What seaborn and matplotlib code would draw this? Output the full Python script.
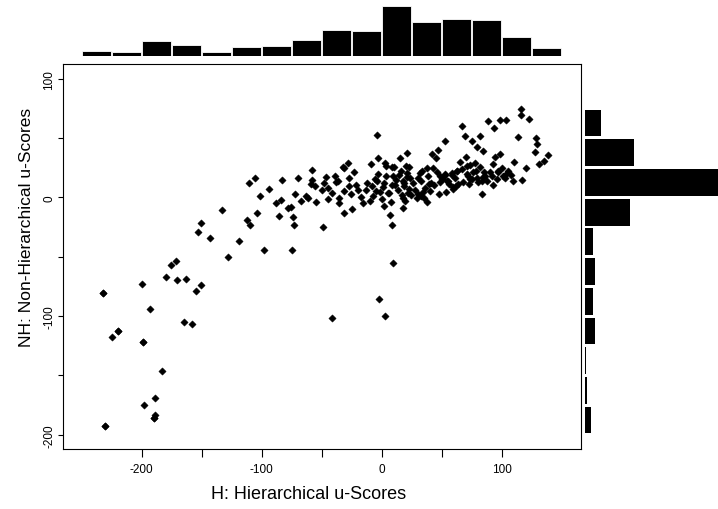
import matplotlib
matplotlib.use("Agg")
import matplotlib.pyplot as plt
import numpy as np
import pandas as pd
import seaborn as sns

# H (hierarchical) and NH (non-hierarchical) u-scores
h_scores = [
    -232, -230.6, -224.5, -219.7, -199.7, -198.6, -197.8, -193, -188.6, -188.9,
    -189.7, -182.8, -179.7, -175.8, -171.7, -170.8, -163, -165, -157.8, -155,
    -150.8, -152.8, -150.8, -142.8, -132.8, -127.8, -118.9, -110.8, -105.8, -112.2,
    -110, -101.4, -104.2, -97.8, -93.9, -87.8, -84.2, -85.3, -77.8, -75.8,
    -74.2, -73, -75, -83, -71.9, -70, -66.9, -63.3, -61.4, -58,
    -58, -59.2, -55.3, -55, -49.2, -49.5, -46.1, -45, -45, -41.1,
    -41.1, -37.8, -36.1, -35.8, -35.3, -32.5, -31.4, -28.3, -31.4, -31.1,
    -27.5, -25.5, -24.4, -23.3, -21.7, -17.2, -15.3, -13.1, -10, -9.2,
    -7.8, -7, -5.8, -4.2, -3.6, -2.8, -4.7, -2.2, 2.8, -1.4,
    0.3, 1.4, 1.9, 2.8, 3.9, 6.9, 8.9, 9.7, 6.4, 7.8,
    8.3, 9.7, 10.6, 11.1, 14.7, 15.6, 16.7, 17.5, 18, 18.9,
    20, 20.8, 20.8, 21.4, 22.5, 23.1, 19.4, 17.5, 24.2, 29.2,
    30.6, 31.9, 32.8, 33.9, 34.7, 35.3, 37.5, 37.8, 39.2, 41.1,
    42.2, 43.1, 45.3, 46.7, 47.8, 48.6, 51.4, 52.5, 52.8, 53.6,
    55, 58.9, 59.7, 61.9, 63.1, 63.9, 65.3, 66.7, 68.1, 69.4,
    70, 71.4, 73.1, 73.6, 75.6, 76.4, 77.8, 79.2, 79.7, 81.7,
    83.3, 83.6, 84.7, 85.3, 88.9, 90.3, 92.5, 93.6, 94.4, 97.2,
    98.6, 98.6, 100.3, 102.8, 103.6, 103.6, 109.7, 110.3, 113.3, 115.8,
    115.8, 116.7, 120.3, 122.8, 127.8, 128.6, 129.7, 135.6, 138.6,
    # dense band
    50.0, 52.8, 54.2, 58.3, 59.7, 62.5, 66.7, 70.8, 72.2, 74.0,
    56.5, 61.0, 75.5, 78.5, 80.5, 82.0, 84.5, 86.1, 88.0, 91.6,
    95.8, 97.2, 93.0, 101.4, 105.5, 108.0, 26.0, 27.5, 30.0, 33.0,
    36.0, 38.5, 40.0, 44.0, 46.0, 49.0, 2.0, 4.0, 5.5, 9.0,
    12.0, 13.5, 16.0, 19.0, 22.0, 24.0, -20.0, -12.0, -3.0, -48.0,
    -39.0, -27.0, 131.0,
    # tied (overlapping) points in the sparse tail
    -230.6, -232, -219.7, -189.7, -198.6,
]
nh_scores = [
    -81, -193, -117.8, -112.2, -73.2, -122, -175, -94, -168.9, -183.2,
    -186, -145.9, -67, -57, -53.9, -69.8, -69, -105, -106.9, -78.8,
    -74, -28.9, -21.9, -33.9, -10.9, -49.9, -37, 12.1, 16.3, -18.8,
    -23, 1.1, -12.9, -44, 7.3, -5, -2.2, -16, -9, -8.1,
    -16.8, -23, -44, 14.9, 2.8, 16.3, -3.1, 1.1, -0.8, 23.3,
    14.9, 10.9, 9.8, -3.9, -25, 6.2, 16.8, 8.1, -1.1, 3.9,
    -102, 12.9, 13.7, -0.8, -5, 25.5, 24.7, 28.9, -12.9, 5,
    9.8, 3.1, -10.1, 21, 10.1, 0.3, -5, 5.9, -3.4, 28,
    9.3, 1.4, 15.1, 52.7, 14, 33.1, 5, -85.8, -99.9, 4.8,
    -1.7, 8.4, -7, 28.9, 26.1, -14.9, -23, -55, 3.4, -3.6,
    25.5, 18.2, 25.2, 10.7, 19.1, 33.1, 2.2, -0.8, -9, 9.3,
    26.6, 37, 17.4, 20.2, 25.8, 7, -2.8, 14, 1.7, -0.3,
    16.5, 20.5, 0.8, 21.9, 4.2, -0.8, -3.9, 25, 10.9, 12.3,
    36.5, 25, 33.4, 39.6, 2.8, 17.7, 16.8, 19.6, 47.1, 4.8,
    13.7, 20.2, 8.4, 9.8, 22.2, 11.2, 29.5, 60, 13.2, 51.9,
    33.7, 19.6, 11.2, 27.2, 47.7, 21, 28.9, 42.1, 16.5, 51.9,
    2.8, 13.7, 39.3, 21, 64, 21, 27.8, 58.1, 33.7, 21,
    65.1, 36.5, 24.7, 16.3, 65.1, 19.6, 13.7, 30, 51.1, 74.1,
    69, 14.9, 24.7, 65.9, 37.9, 49.9, 44.6, 30.9, 35.9,
    # dense band
    15.4, 18.7, 14.0, 18.7, 7.0, 22.4, 23.8, 26.6, 18.2, 15.4,
    11.5, 16.0, 15.4, 22.0, 12.6, 25.2, 17.5, 18.2, 14.0, 18.2,
    15.4, 22.4, 10.0, 18.2, 22.4, 19.0, 12.0, 6.0, 3.0, 14.0,
    8.0, 18.0, 5.0, 10.0, 21.0, 13.0, 12.0, 18.0, 4.0, 10.0,
    15.0, 6.0, 22.0, 12.0, 4.0, 16.0, 6.0, 12.0, 20.0, 12.0,
    18.0, 16.0, 28.0,
    # tied (overlapping) points in the sparse tail
    -193, -81, -112.2, -186, -122,
]
x_ticks = [-200, -150, -100, -50, 0, 50, 100]
x_tick_labels = ["-200", "", "-100", "", "0", "", "100"]
y_ticks = [-200, -150, -100, -50, 0, 50, 100]
y_tick_labels = ["-200", "", "-100", "", "0", "", "100"]
x_bins = np.arange(-250, 151, 25)
y_bins = np.arange(-200, 76, 25)

df = pd.DataFrame({"H": h_scores, "NH": nh_scores})

sns.set_style("ticks")
plt.rcParams["font.family"] = ["Liberation Sans", "DejaVu Sans"]
plt.rcParams["text.color"] = "black"
plt.rcParams["axes.labelcolor"] = "black"
plt.rcParams["xtick.color"] = "black"
plt.rcParams["ytick.color"] = "black"

W, H = 718, 510
fig = plt.figure(figsize=(W / 100, H / 100), dpi=100)
ax = fig.add_axes([63.3 / W, 60 / H, 517.2 / W, 385 / H])
ax_top = fig.add_axes([63.3 / W, (H - 56.7) / H, 517.2 / W, 56.7 / H])
ax_right = fig.add_axes([584.5 / W, 60 / H, (W - 584.5) / W, 385 / H])

sns.scatterplot(data=df, x="H", y="NH", ax=ax, marker="D", color="black",
                s=14, linewidth=0.3, edgecolor="black")
ax.set_xlim(-265.3, 165.7)
ax.set_ylim(-212.0, 112.3)
ax.set_xticks(x_ticks)
ax.set_xticklabels(x_tick_labels)
ax.set_yticks(y_ticks)
ax.set_yticklabels(y_tick_labels, rotation=90, va="center")
ax.tick_params(axis="x", length=5.8, width=0.8, color="black", pad=4, labelsize=8.5)
ax.tick_params(axis="y", length=3.6, width=0.8, color="black", pad=2, labelsize=8.5)
for s in ax.spines.values():
    s.set_visible(True)
    s.set_color("black")
    s.set_linewidth(0.8)
ax.set_xlabel("H: Hierarchical u-Scores", fontsize=13)
ax.set_ylabel("NH: Non-Hierarchical u-Scores", fontsize=12.5)
ax.xaxis.set_label_coords((309 - 63.3) / 517.2, (450 - 495) / 385)
ax.xaxis.label.set_va("center")
ax.yaxis.set_label_coords((27 - 63.3) / 517.2, (450 - 227) / 385)
ax.yaxis.label.set_va("center")

sns.histplot(data=df, x="H", bins=x_bins, ax=ax_top, color="black", alpha=1,
             edgecolor="white", linewidth=0.6, shrink=0.96)
ax_top.set_xlim(ax.get_xlim())
ax_top.set_ylim(0, 46)
ax_top.axis("off")

sns.histplot(data=df, y="NH", bins=y_bins, ax=ax_right, color="black", alpha=1,
             linewidth=0, shrink=0.9)
ax_right.set_ylim(ax.get_ylim())
ax_right.set_xlim(0, 100)
ax_right.axis("off")

fig.savefig("out.png", dpi=100)
